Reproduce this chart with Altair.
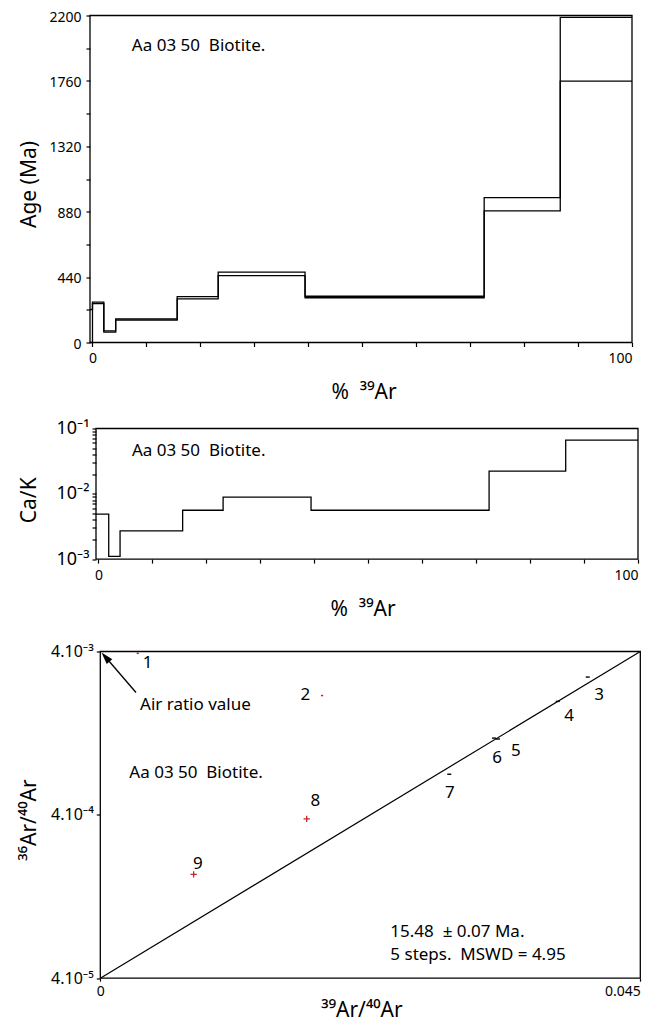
import altair as alt
import pandas as pd

FONT = "Noto Sans"
RED = "#c1272d"

# ---------------- Panel 1 : age spectrum (step edges, upper / lower error envelope) ----------------
age_x = [-0.46, 0.0, 2.1, 4.3, 15.7, 23.3, 39.4, 72.6, 86.7, 100.0]
age_lo = [0, 262, 70, 151, 294, 450, 301, 886, 1758, 1758]
age_hi = [222, 272, 78, 158, 309, 473, 311, 975, 2188, 2188]
age_xdom = [-0.46, 100]
age_ydom = [0, 2200]
age_xticks = [0, 10, 20, 30, 40, 50, 60, 70, 80, 90, 100]
age_yticks = [0, 220, 440, 660, 880, 1100, 1320, 1540, 1760, 1980, 2200]
age_note = ["Aa 03 50\u00a0 Biotite."]
age_note_x = [7.3]
age_note_y = [1964]

# ---------------- Panel 2 : Ca/K ----------------
cak_x = [-0.46, 1.9, 4.0, 15.6, 23.1, 39.4, 72.4, 86.6, 100.0]
cak_v = [0.0049, 0.0011, 0.0027, 0.0056, 0.0089, 0.0056, 0.0223, 0.0664, 0.0664]
cak_xdom = [-1.572, 100]
cak_frame_x = [-0.46, 100]
cak_ydom = [0.001, 0.1]
cak_xticks = [0, 10, 20, 30, 40, 50, 60, 70, 80, 90, 100]
cak_yticks = [0.001, 0.002, 0.003, 0.004, 0.005, 0.006, 0.007, 0.008, 0.009,
              0.01, 0.02, 0.03, 0.04, 0.05, 0.06, 0.07, 0.08, 0.09, 0.1]
cak_note_x = [6.2]
cak_note_y = [0.0382]

# ---------------- Panel 3 : inverse isochron ----------------
iso_x = [0.00312, 0.01848, 0.04062, 0.03812, 0.03314, 0.03281, 0.02908, 0.0172, 0.00778]
iso_y = [0.00390, 0.00215, 0.00279, 0.00198, 0.001165, 0.00118, 0.000709, 0.000378, 0.000173]
iso_kind = ["dot", "dot", "dash", "dash", "dash", "dash", "dash", "cross", "cross"]
iso_lab = ["1", "2", "3", "4", "5", "6", "7", "8", "9"]
iso_lab_x = [0.00395, 0.01708, 0.04156, 0.03906, 0.03464, 0.03306, 0.02914, 0.01792, 0.00812]
iso_lab_y = [0.00339, 0.00218, 0.00218, 0.00162, 0.00099, 0.000889, 0.000543, 0.000483, 0.000199]
fit_x = [0.0, 0.045]
fit_y = [0.00004, 0.004]
iso_xdom = [-0.000858, 0.045]
iso_frame_x = [0.0, 0.045]
iso_ydom = [0.00004, 0.004]
iso_yticks = [0.00004, 0.0004, 0.004]
iso_xticks = [0.0, 0.045]
arrow_tail = [0.002975, 0.002245]
arrow_head = [0.000433, 0.00370]
iso_notes = ["Air ratio value", "Aa 03 50\u00a0 Biotite.", "15.48 \u00a0\u00b1 0.07 Ma.", "5 steps.\u00a0 MSWD = 4.95"]
iso_notes_x = [0.00331, 0.00242, 0.02417, 0.02417]
iso_notes_y = [0.001766, 0.00067, 0.0000710, 0.0000518]

LW = 1.3


def one(d):
    return pd.DataFrame(d)


# ======== Panel 1 ========
xs1 = alt.Scale(domain=age_xdom, nice=False, zero=False)
ys1 = alt.Scale(domain=age_ydom, nice=False, zero=False)
ax1x = alt.Axis(values=age_xticks, domain=False, grid=False, tickSize=4, labelPadding=5,
                labelFontSize=14, labelExpr="datum.value == 0 || datum.value == 100 ? datum.label : ''",
                title="%\u00a0\u00a0\u00b3\u2079Ar", titleFontSize=21, titleX=273.5, titleY=56,
                titleBaseline="alphabetic", titleAlign="center")
ax1y = alt.Axis(values=age_yticks, domain=False, grid=False, tickSize=4, labelPadding=5,
                labelFontSize=14, labelOffset=1.5,
                labelExpr="datum.value % 440 == 0 ? format(datum.value, 'd') : ''",
                title="Age (Ma)", titleFontSize=21, titleX=-72, titleY=168.5, titleAngle=270,
                titleBaseline="top", titleAlign="center")


def X1(f):
    return alt.X(f, scale=xs1, axis=ax1x)


def Y1(f):
    return alt.Y(f, scale=ys1, axis=ax1y)


age_df = pd.DataFrame({"x": age_x, "lo": age_lo, "hi": age_hi})
frame1 = alt.Chart(one({"x0": [age_xdom[0]], "x1": [age_xdom[1]], "y0": [age_ydom[0]], "y1": [age_ydom[1]]})).mark_rect(
    filled=False, color="black", strokeWidth=LW).encode(x=X1("x0:Q"), x2="x1:Q", y=Y1("y0:Q"), y2="y1:Q")
hi1 = alt.Chart(age_df).mark_line(interpolate="step-after", color="black", strokeWidth=1.3).encode(
    x=X1("x:Q"), y=Y1("hi:Q"))
lo1 = alt.Chart(age_df).mark_line(interpolate="step-after", color="black", strokeWidth=1.3).encode(
    x=X1("x:Q"), y=Y1("lo:Q"))
note1 = alt.Chart(one({"x": age_note_x, "y": age_note_y, "t": age_note})).mark_text(
    align="left", baseline="alphabetic", fontSize=17, font=FONT, color="black").encode(
    x=X1("x:Q"), y=Y1("y:Q"), text="t:N")
p1 = alt.layer(frame1, lo1, hi1, note1).properties(width=542, height=327)

# ======== Panel 2 ========
xs2 = alt.Scale(domain=cak_xdom, nice=False, zero=False)
ys2 = alt.Scale(type="log", domain=cak_ydom, nice=False)
ax2x = alt.Axis(values=cak_xticks, domain=False, grid=False, tickSize=4, labelPadding=5,
                labelFontSize=14, labelExpr="datum.value == 0 || datum.value == 100 ? datum.label : ''",
                title="%\u00a0\u00a0\u00b3\u2079Ar", titleFontSize=21, titleX=272.5, titleY=56.7,
                titleBaseline="alphabetic", titleAlign="center")
ax2y = alt.Axis(values=cak_yticks, domain=False, grid=False, tickSize=4, labelPadding=3, offset=-6,
                labelFontSize=18,
                labelExpr="datum.value == 0.1 ? '10\u207b\u00b9' : datum.value == 0.01 ? '10\u207b\u00b2' : datum.value == 0.001 ? '10\u207b\u00b3' : ''",
                title="Ca/K", titleFontSize=21, titleX=-78, titleY=71.3, titleAngle=270,
                titleBaseline="top", titleAlign="center")
frame2 = alt.Chart(one({"x0": [cak_frame_x[0]], "x1": [cak_frame_x[1]], "y0": [cak_ydom[0]], "y1": [cak_ydom[1]]})).mark_rect(
    filled=False, color="black", strokeWidth=LW).encode(
    x=alt.X("x0:Q", scale=xs2, axis=ax2x), x2="x1:Q",
    y=alt.Y("y0:Q", scale=ys2, axis=ax2y), y2="y1:Q")
line2 = alt.Chart(one({"x": cak_x, "v": cak_v})).mark_line(
    interpolate="step-after", color="black", strokeWidth=LW).encode(
    x=alt.X("x:Q", scale=xs2, axis=ax2x), y=alt.Y("v:Q", scale=ys2, axis=ax2y))
note2 = alt.Chart(one({"x": cak_note_x, "y": cak_note_y, "t": age_note})).mark_text(
    align="left", baseline="alphabetic", fontSize=17, font=FONT, color="black").encode(
    x=alt.X("x:Q", scale=xs2, axis=ax2x), y=alt.Y("y:Q", scale=ys2, axis=ax2y), text="t:N")
p2 = alt.layer(frame2, line2, note2).properties(width=548, height=130.6)

# ======== Panel 3 ========
xs3 = alt.Scale(domain=iso_xdom, nice=False, zero=False)
ys3 = alt.Scale(type="log", domain=iso_ydom, nice=False)
ax3x = alt.Axis(values=iso_xticks, domain=False, grid=False, tickSize=3, labelPadding=3,
                labelFontSize=14, labelExpr="datum.value == 0 ? '0' : format(datum.value, '.3f')",
                title="\u00b3\u2079Ar/\u2074\u2070Ar", titleFontSize=21, titleX=271.5, titleY=38.3,
                titleBaseline="alphabetic", titleAlign="center")
ax3y = alt.Axis(values=iso_yticks, domain=False, grid=False, tickSize=4, labelPadding=3, offset=-10.3,
                labelFontSize=16,
                labelExpr="datum.value > 0.001 ? '4.10\u207b\u00b3' : datum.value > 0.0001 ? '4.10\u207b\u2074' : '4.10\u207b\u2075'",
                title="\u00b3\u2076Ar/\u2074\u2070Ar", titleFontSize=21, titleX=-82.3, titleY=168, titleAngle=270,
                titleBaseline="top", titleAlign="center")


def X3(f):
    return alt.X(f, scale=xs3, axis=ax3x)


def Y3(f):
    return alt.Y(f, scale=ys3, axis=ax3y)


frame3 = alt.Chart(one({"x0": [iso_frame_x[0]], "x1": [iso_frame_x[1]], "y0": [iso_ydom[0]], "y1": [iso_ydom[1]]})).mark_rect(
    filled=False, color="black", strokeWidth=LW).encode(x=X3("x0:Q"), x2="x1:Q", y=Y3("y0:Q"), y2="y1:Q")
fit3 = alt.Chart(one({"x": fit_x, "y": fit_y})).mark_line(color="black", strokeWidth=1.2).encode(
    x=X3("x:Q"), y=Y3("y:Q"))
pts = pd.DataFrame({"x": iso_x, "y": iso_y, "kind": iso_kind})
cross3 = alt.Chart(pts).transform_filter("datum.kind == 'cross'").mark_point(
    shape="M-1,0L1,0M0,-1L0,1", size=40, filled=False, color=RED, strokeWidth=1.3, opacity=1).encode(
    x=X3("x:Q"), y=Y3("y:Q"))
dot3 = alt.Chart(pts).transform_filter("datum.kind == 'dot'").mark_point(
    shape="M-1,0L1,0", size=5, filled=False, color=RED, strokeWidth=1.5, opacity=1).encode(
    x=X3("x:Q"), y=Y3("y:Q"))
dash3 = alt.Chart(pts).transform_filter("datum.kind == 'dash'").mark_point(
    shape="M-1,0L1,0", size=16, filled=False, color="black", strokeWidth=1.4, opacity=1).encode(
    x=X3("x:Q"), y=Y3("y:Q"))
labs3 = alt.Chart(one({"x": iso_lab_x, "y": iso_lab_y, "t": iso_lab})).mark_text(
    align="center", baseline="middle", fontSize=17, font=FONT, color="black").encode(
    x=X3("x:Q"), y=Y3("y:Q"), text="t:N")
arrow_line = alt.Chart(one({"x0": [arrow_tail[0]], "y0": [arrow_tail[1]], "x1": [arrow_head[0]], "y1": [arrow_head[1]]})).mark_rule(
    color="black", strokeWidth=1.3).encode(x=X3("x0:Q"), y=Y3("y0:Q"), x2="x1:Q", y2="y1:Q")
arrow_tip = alt.Chart(one({"x": [arrow_head[0]], "y": [arrow_head[1]]})).mark_point(
    shape="M0,-1L0.6,1L-0.6,1Z", size=150, angle=319, filled=True, color="black", opacity=1).encode(
    x=X3("x:Q"), y=Y3("y:Q"))
notes3 = alt.Chart(one({"x": iso_notes_x, "y": iso_notes_y, "t": iso_notes})).mark_text(
    align="left", baseline="alphabetic", fontSize=17, font=FONT, color="black").encode(
    x=X3("x:Q"), y=Y3("y:Q"), text="t:N")
p3 = alt.layer(frame3, fit3, cross3, dot3, dash3, labs3, arrow_line, arrow_tip, notes3).properties(
    width=550.3, height=326.7)


def spacer(h):
    return alt.Chart(one({"v": [0]})).mark_point(opacity=0).encode(
        x=alt.value(0), y=alt.value(0)).properties(width=1, height=h)


chart = alt.vconcat(p1, spacer(85.7), p2, spacer(91.7), p3, spacing=0, bounds="flush").properties(
    padding={"left": 9, "top": 1.5, "right": 0, "bottom": 0}
).configure_view(stroke="transparent").configure_axis(
    labelFont=FONT, titleFont=FONT, labelColor="black", titleColor="black",
    tickColor="black", titleFontWeight="normal", tickWidth=1.2
)

chart.save("out.html", embed_options={"renderer": "svg", "actions": False})
